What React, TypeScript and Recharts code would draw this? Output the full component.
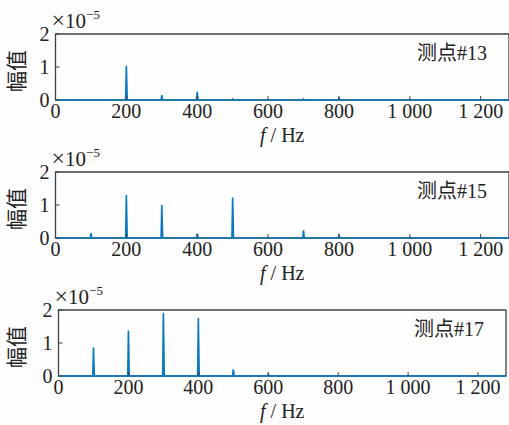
import { LineChart, Line, XAxis, YAxis, ReferenceArea } from "recharts";

// peak frequencies (Hz) and amplitudes (x1e-5)
const panelNames = ["测点#13", "测点#15", "测点#17"];
const peaks13 = [200, 300, 400, 500, 700, 800];
const amps13 = [1.04, 0.15, 0.25, 0.03, 0.03, 0.06];
const peaks15 = [100, 200, 300, 400, 500, 700, 800];
const amps15 = [0.15, 1.3, 1.0, 0.13, 1.23, 0.23, 0.08];
const peaks17 = [100, 200, 300, 400, 500, 600];
const amps17 = [0.86, 1.38, 1.92, 1.76, 0.2, 0.05];

const xTicks = [0, 200, 400, 600, 800, 1000, 1200];
const yTicks = [0, 1, 2];
const fMax = 1280;

const serif = "'Liberation Serif', 'Noto Sans CJK SC', serif";
const frame = "#3b4444";
const blue = "#0a78c0";
const ink = "#222";

function buildSpectrum(peaks: number[], amps: number[]) {
	const pts = [{ f: 0, v: 0 }];
	peaks.forEach((p, i) => {
		pts.push({ f: p - 2, v: 0 }, { f: p, v: amps[i] }, { f: p + 2.5, v: 0 });
	});
	pts.push({ f: fMax, v: 0 });
	return pts;
}

const fmt = (v: number) => (v >= 1000 ? `${Math.floor(v / 1000)} ${String(v % 1000).padStart(3, "0")}` : String(v));

const XTick = ({ x, y, payload }: any) => (
	<g>
		<line x1={x} x2={x} y1={y} y2={y - 4} stroke={frame} strokeWidth={1} />
		<text x={x} y={y + 18} textAnchor="middle" fontSize={20} fill={ink} fontFamily={serif}>
			{fmt(payload.value)}
		</text>
	</g>
);

const YTick = ({ x, y, payload }: any) => (
	<g>
		<line x1={x} x2={x + 4} y1={y} y2={y} stroke={frame} strokeWidth={1} />
		<text x={x - 6} y={y + 7} textAnchor="end" fontSize={20} fill={ink} fontFamily={serif}>
			{payload.value}
		</text>
	</g>
);

function Annotations({ viewBox, name }: any) {
	const { x, y, width, height } = viewBox;
	return (
		<g fontFamily={serif} fill={ink}>
			<text x={x + width - 22} y={y + 26} textAnchor="end" fontSize={20}>
				{name}
			</text>
			<text x={x - 4} y={y - 6} fontSize={21}>
				<tspan fontSize={24}>×</tspan>10
				<tspan fontSize={13} dy={-9}>
					−5
				</tspan>
			</text>
			<text x={x + width / 2} y={y + height + 42} textAnchor="middle" fontSize={20}>
				<tspan fontStyle="italic">f</tspan> / Hz
			</text>
			<text
				x={17}
				y={y + height / 2 + 4}
				textAnchor="middle"
				dominantBaseline="central"
				fontSize={21}
				transform={`rotate(-90 17 ${y + height / 2 + 4})`}
			>
				幅值
			</text>
		</g>
	);
}

function Panel({ top, left, right, name, peaks, amps }: PanelProps) {
	const data = buildSpectrum(peaks, amps);
	return (
		<div style={{ position: "absolute", top, left: 0 }}>
			<LineChart width={509} height={150} data={data} margin={{ top: 34, right, left: 0, bottom: 0 }}>
				<XAxis
					dataKey="f"
					type="number"
					domain={[0, fMax]}
					ticks={xTicks}
					interval={0}
					tickSize={0}
					tickMargin={0}
					axisLine={false}
					height={50}
					tick={XTick}
				/>
				<YAxis
					type="number"
					domain={[0, 2]}
					ticks={yTicks}
					interval={0}
					width={left}
					tickSize={0}
					tickMargin={0}
					axisLine={false}
					tick={YTick}
				/>
				<ReferenceArea
					x1={0}
					x2={fMax}
					y1={0}
					y2={2}
					fill="none"
					stroke={frame}
					strokeWidth={1.3}
					label={(p: any) => <Annotations viewBox={p.viewBox} name={name} />}
				/>
				<Line dataKey="v" type="linear" stroke={blue} strokeWidth={1.6} dot={false} isAnimationActive={false} />
			</LineChart>
		</div>
	);
}

export default function App() {
	return (
		<div style={{ position: "absolute", top: 0, left: 0, width: 509, height: 425, background: "#fdfdfd", overflow: "hidden" }}>
			<Panel top={0} left={55.5} right={0} name={panelNames[0]} peaks={peaks13} amps={amps13} />
			<Panel top={138} left={55.5} right={0} name={panelNames[1]} peaks={peaks15} amps={amps15} />
			<Panel top={276} left={58.5} right={3} name={panelNames[2]} peaks={peaks17} amps={amps17} />
		</div>
	);
}

interface PanelProps {
	top: number;
	left: number;
	right: number;
	name: string;
	peaks: number[];
	amps: number[];
}
